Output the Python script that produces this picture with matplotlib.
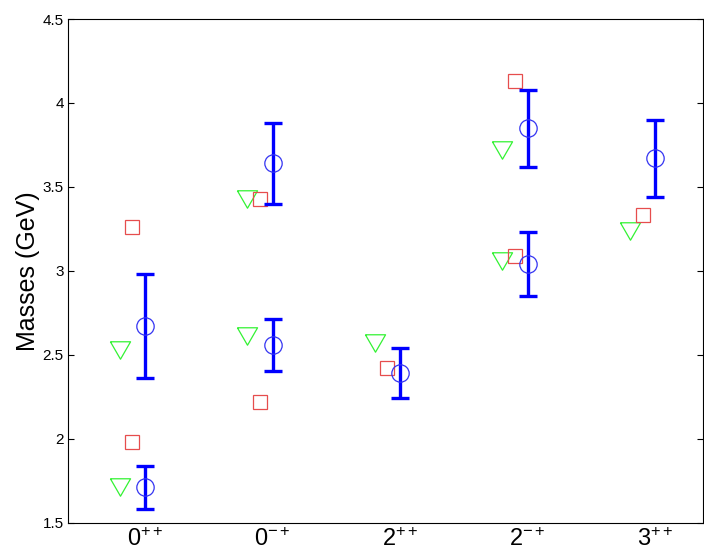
import matplotlib
matplotlib.use("Agg")
import matplotlib.pyplot as plt
import numpy as np

plt.rcParams['font.family'] = ['Liberation Sans', 'DejaVu Sans']
plt.rcParams['mathtext.fontset'] = 'custom'
plt.rcParams['mathtext.rm'] = 'Liberation Sans'
plt.rcParams['mathtext.it'] = 'Liberation Sans:italic'
plt.rcParams['mathtext.bf'] = 'Liberation Sans:bold'

# states (x positions 1..5)
states = ['$0^{++}$', '$0^{-+}$', '$2^{++}$', '$2^{-+}$', '$3^{++}$']

# lattice results with error bars (blue circles)
blue_state = [1, 1, 2, 2, 3, 4, 4, 5]
blue_mass = [1.71, 2.67, 2.56, 3.64, 2.39, 3.04, 3.85, 3.67]
blue_err = [0.13, 0.31, 0.155, 0.24, 0.15, 0.19, 0.23, 0.23]

# model predictions (red squares)
red_state = [1, 1, 2, 2, 3, 4, 4, 5]
red_mass = [1.98, 3.26, 2.22, 3.43, 2.42, 3.09, 4.13, 3.33]

# model predictions (green triangles)
green_state = [1, 1, 2, 2, 3, 4, 4, 5]
green_mass = [1.71, 2.53, 2.61, 3.43, 2.57, 3.06, 3.72, 3.24]

fig = plt.figure(figsize=(7.04, 5.53), dpi=100)
ax = fig.add_axes([0.0966, 0.0548, 0.9020, 0.9108])

tri = [(-1, 0.866), (1, 0.866), (0, -0.866), (-1, 0.866)]

ax.plot(np.array(green_state) - 0.2, green_mass, linestyle='none',
        marker=tri, markersize=14.5, markerfacecolor='none',
        markeredgecolor=(0.2, 0.95, 0.2), markeredgewidth=0.9)
ax.plot(np.array(red_state) - 0.1, red_mass, linestyle='none',
        marker='s', markersize=10, markerfacecolor='none',
        markeredgecolor=(0.9, 0.3, 0.3), markeredgewidth=0.9)
ax.errorbar(blue_state, blue_mass, yerr=blue_err, fmt='none',
            ecolor=(0, 0, 1), elinewidth=2.4, capsize=6.5, capthick=2.4)
ax.plot(blue_state, blue_mass, linestyle='none', marker='o',
        markersize=12.5, markerfacecolor='none',
        markeredgecolor=(0.2, 0.2, 0.95), markeredgewidth=0.9)

ax.set_xlim(0.396, 5.374)
ax.set_ylim(1.5, 4.5)
ax.set_xticks(np.arange(1, 6))
ax.set_xticklabels(states, fontsize=17)
ax.set_yticks(np.arange(1.5, 4.51, 0.5))
ax.set_yticklabels(['1.5', '2', '2.5', '3', '3.5', '4', '4.5'], fontsize=11)
ax.tick_params(axis='x', length=0, pad=4)
ax.tick_params(axis='y', direction='in', length=4.5, width=0.8,
               right=True, pad=3)
ax.set_ylabel('Masses (GeV)', fontsize=18, labelpad=2)
for s in ax.spines.values():
    s.set_linewidth(0.8)

fig.savefig('out.png', dpi=100)
